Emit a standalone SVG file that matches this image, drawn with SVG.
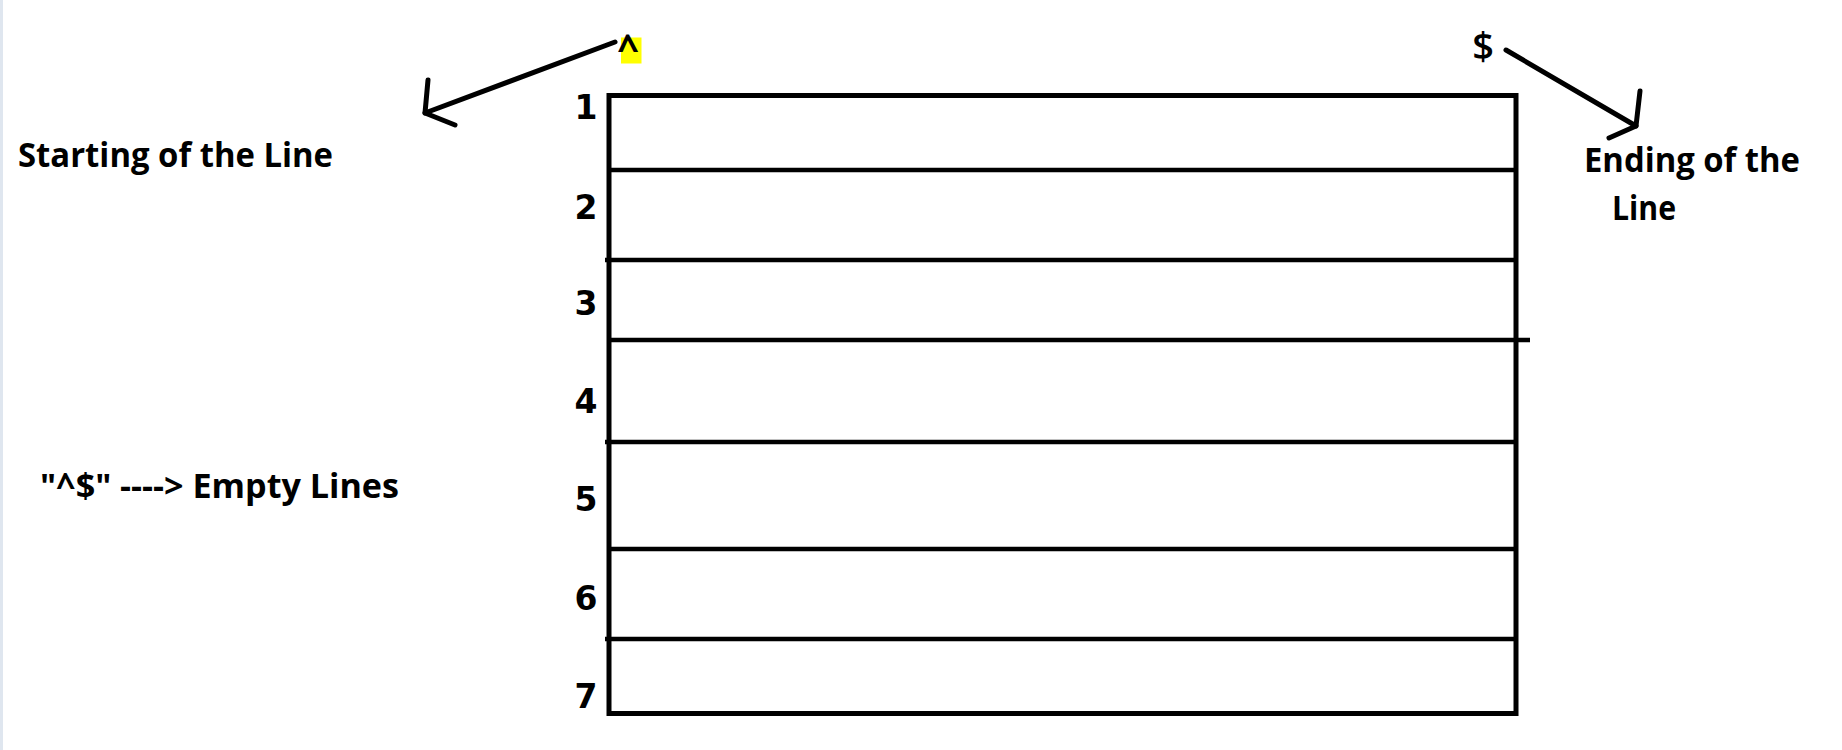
<svg xmlns="http://www.w3.org/2000/svg" width="1842" height="750" viewBox="0 0 1842 750">
<style>
.lbl{font-family:"Open Sans","Noto Sans","Liberation Sans",sans-serif;font-weight:bold;font-size:34px;fill:#000}
.num{font-family:"DejaVu Sans","Liberation Sans",sans-serif;font-weight:bold;font-size:33px;fill:#000;text-anchor:middle}
.ln{stroke:#000;stroke-width:4.5;fill:none}
.arr{stroke:#000;stroke-width:5;fill:none;stroke-linecap:round;stroke-linejoin:round}
</style>
<rect x="0" y="0" width="1842" height="750" fill="#fff"/>
<rect x="0" y="0" width="3" height="750" fill="#dfe6ef"/>
<g id="table">
<rect class="ln" x="609" y="95.5" width="907" height="618" style="stroke-width:5"/>
<line class="ln" x1="609" y1="170" x2="1516" y2="170"/>
<line class="ln" x1="605" y1="260" x2="1516" y2="260"/>
<line class="ln" x1="609" y1="340" x2="1530" y2="340"/>
<line class="ln" x1="605" y1="442" x2="1516" y2="442"/>
<line class="ln" x1="609" y1="549" x2="1516" y2="549"/>
<line class="ln" x1="605" y1="639" x2="1516" y2="639"/>
</g>
<g id="row-numbers">
<text class="num" x="586" y="119">1</text>
<text class="num" x="586" y="219">2</text>
<text class="num" x="586" y="315">3</text>
<text class="num" x="586" y="413">4</text>
<text class="num" x="586" y="511">5</text>
<text class="num" x="586" y="610">6</text>
<text class="num" x="586" y="708">7</text>
</g>
<g id="caret">
<rect x="621" y="37.5" width="20.5" height="26" fill="#ffff00"/>
<text class="lbl" x="628" y="62" text-anchor="middle" style="font-size:38px">^</text>
</g>
<g id="dollar">
<text class="lbl" x="1483" y="60" text-anchor="middle" style="font-size:38px;font-weight:600">$</text>
</g>
<g id="start-label">
<text class="lbl" x="18" y="167" textLength="315" lengthAdjust="spacingAndGlyphs">Starting of the Line</text>
</g>
<g id="end-label">
<text class="lbl" x="1584" y="172" textLength="216" lengthAdjust="spacingAndGlyphs">Ending of the</text>
<text class="lbl" x="1612" y="220" textLength="64" lengthAdjust="spacingAndGlyphs">Line</text>
</g>
<g id="empty-label">
<text class="lbl" x="40" y="498" textLength="359" lengthAdjust="spacingAndGlyphs">"^$" ----&gt; Empty Lines</text>
</g>
<g id="connectors">
<line class="arr" x1="615" y1="42" x2="425" y2="113"/>
<polyline class="arr" points="428,80 425,113 455,125"/>
<line class="arr" x1="1506" y1="50" x2="1636" y2="126"/>
<polyline class="arr" points="1640,91 1636,126 1609,138"/>
</g>
</svg>
